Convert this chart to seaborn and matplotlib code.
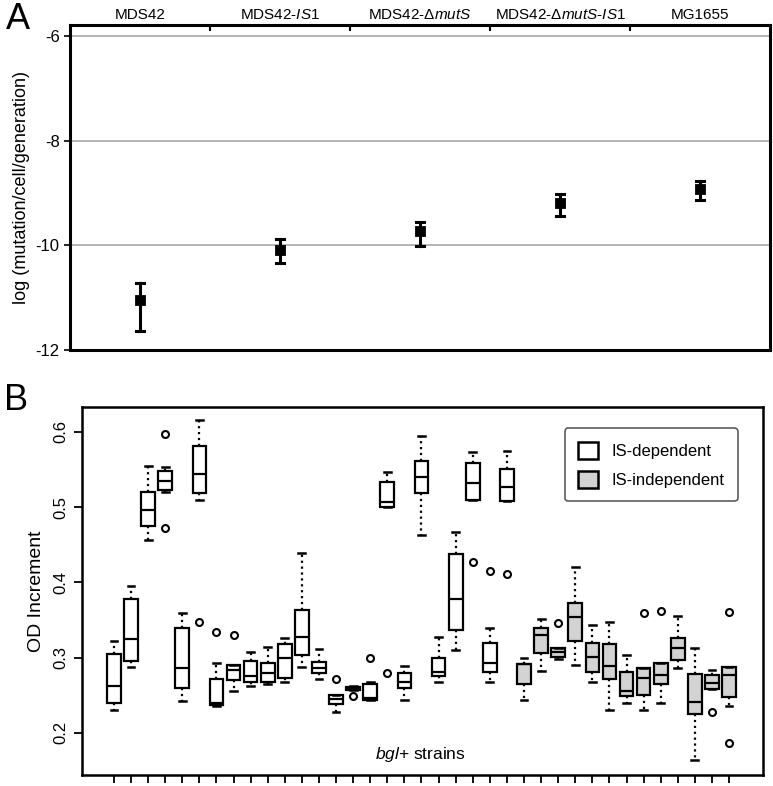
import numpy as np
import pandas as pd
import matplotlib.pyplot as plt
import seaborn as sns

# Panel A: mutation rates (log), point estimate with lower/upper bounds
strains = ["MDS42", "MDS42-$\\mathit{IS}$1", "MDS42-$\\Delta\\mathit{mutS}$",
           "MDS42-$\\Delta\\mathit{mutS}$-$\\mathit{IS}$1", "MG1655"]
rate = [-11.05, -10.08, -9.73, -9.20, -8.93]
rate_lo = [-11.63, -10.33, -10.02, -9.44, -9.13]
rate_hi = [-10.72, -9.88, -9.55, -9.01, -8.78]

# Panel B: box summaries (37 bgl+ strains)
whisk_lo = [.230, .287, .457, .520, .242, .510, .236, .256, .262, .265, .268, .288, .271,
            .228, .257, .244, .500, .244, .463, .268, .310, .509, .268, .508,
            .244, .282, .298, .290, .268, .230, .240, .230, .240, .286, .164, .258, .236]
q1 = [.240, .295, .475, .523, .260, .519, .237, .270, .267, .268, .273, .304, .280,
      .238, .257, .244, .500, .260, .519, .276, .337, .509, .281, .508,
      .265, .306, .301, .322, .281, .272, .249, .250, .265, .297, .225, .258, .248]
median = [.262, .325, .496, .535, .286, .544, .240, .284, .276, .280, .300, .328, .286,
          .245, .259, .246, .507, .268, .540, .281, .378, .532, .293, .527,
          .291, .330, .308, .354, .301, .289, .256, .273, .277, .313, .241, .266, .277]
q3 = [.305, .378, .520, .548, .339, .582, .272, .290, .296, .293, .318, .363, .294,
      .250, .261, .265, .533, .280, .562, .300, .438, .559, .320, .551,
      .292, .339, .313, .372, .319, .318, .281, .286, .293, .326, .278, .277, .288]
whisk_hi = [.322, .395, .555, .553, .359, .616, .293, .290, .307, .314, .326, .439, .311,
            .250, .262, .268, .547, .289, .594, .327, .467, .573, .339, .575,
            .300, .351, .313, .420, .343, .347, .304, .286, .293, .355, .313, .284, .288]
outlier_lo = {3: .473, 5: .348, 14: .249, 16: .280, 21: .427, 23: .411, 35: .228, 36: .186}
outlier_hi = {3: .597, 6: .334, 7: .330, 13: .272, 15: .300, 22: .415, 26: .346,
              31: .360, 32: .362, 36: .361}
n_dependent = 24

plt.rcParams['font.family'] = ['Liberation Sans', 'DejaVu Sans']
plt.rcParams['mathtext.fontset'] = 'custom'
plt.rcParams['mathtext.rm'] = 'Liberation Sans'
plt.rcParams['mathtext.it'] = 'Liberation Sans:italic'

fig = plt.figure(figsize=(7.73, 7.86), dpi=100)
ax_a = fig.add_axes([0.0906, 0.5547, 0.9056, 0.4135])
ax_b = fig.add_axes([0.1061, 0.014, 0.881, 0.468])

# ---- panel A
rows = []
for s, lo, m, hi in zip(strains, rate_lo, rate, rate_hi):
    for v in (lo, m, hi):
        rows.append({"strain": s, "rate": v})
dfa = pd.DataFrame(rows)
sns.pointplot(data=dfa, x="strain", y="rate", order=strains, estimator="median",
              errorbar=("pi", 100), color="black", marker="s", markersize=6,
              linestyle="none", capsize=0.06, err_kws={"linewidth": 2.2}, ax=ax_a)
ax_a.set_xlim(-0.5, 4.5)
ax_a.set_ylim(-12, -5.79)
ax_a.set_yticks([-12, -10, -8, -6])
ax_a.set_yticklabels(["-12", "-10", "-8", "-6"], fontsize=12)
for y in (-10, -8, -6):
    ax_a.axhline(y, color="#a8a8a8", lw=1.2, zorder=0)
ax_a.xaxis.tick_top()
ax_a.set_xticks(range(5))
ax_a.set_xticklabels(strains, fontsize=11)
ax_a.tick_params(axis="x", length=0, pad=2)
ax_a.set_xticks([0.5, 1.5, 2.5, 3.5], minor=True)
ax_a.tick_params(axis="x", which="minor", direction="in", length=4, width=1.5, top=True)
ax_a.tick_params(axis="y", length=4, width=1.2)
ax_a.set_xlabel("")
ax_a.set_ylabel("log (mutation/cell/generation)", fontsize=13, labelpad=4)
for sp in ax_a.spines.values():
    sp.set_linewidth(2.2)
fig.text(0.008, 0.975, "A", fontsize=26, va="center")

# ---- panel B
rows = []
for i in range(len(median)):
    lo = outlier_lo.get(i, whisk_lo[i])
    hi = outlier_hi.get(i, whisk_hi[i])
    grp = "IS-dependent" if i < n_dependent else "IS-independent"
    for v in (lo, whisk_lo[i], q1[i], median[i], median[i], median[i], q3[i], whisk_hi[i], hi):
        rows.append({"strain": str(i), "od": v, "group": grp})
dfb = pd.DataFrame(rows)
sns.boxplot(data=dfb, x="strain", y="od", hue="group", order=[str(i) for i in range(len(median))],
            palette={"IS-dependent": "white", "IS-independent": "#d3d3d3"},
            dodge=False, width=0.8, whis=1.5, linecolor="black", linewidth=1.6,
            whiskerprops={"linestyle": ":", "linewidth": 1.6},
            capprops={"linewidth": 1.8},
            flierprops={"marker": "o", "markersize": 5, "markerfacecolor": "none",
                        "markeredgecolor": "black", "markeredgewidth": 1.5},
            ax=ax_b)
ax_b.set_xlim(-1.87, 37.99)
ax_b.set_ylim(0.144, 0.633)
ax_b.set_yticks([0.2, 0.3, 0.4, 0.5, 0.6])
ax_b.set_yticklabels(["0.2", "0.3", "0.4", "0.5", "0.6"], rotation=90, va="center", fontsize=12)
ax_b.set_xticklabels([])
ax_b.tick_params(axis="x", length=6, width=1.3)
ax_b.tick_params(axis="y", length=6, width=1.3)
ax_b.set_xlabel("")
ax_b.set_ylabel("OD Increment", fontsize=14, labelpad=6)
for sp in ax_b.spines.values():
    sp.set_linewidth(1.8)
ax_b.text(0.497, 0.055, "$\\mathit{bgl}$+ strains", transform=ax_b.transAxes,
          ha="center", va="center", fontsize=12.5)
sns.move_legend(ax_b, "upper right", title=None, frameon=True, fontsize=12,
                borderpad=0.8, handlelength=1.2, handleheight=1.2, labelspacing=0.7,
                bbox_to_anchor=(0.975, 0.965))
leg = ax_b.get_legend()
leg.get_frame().set_edgecolor("#333333")
leg.get_frame().set_linewidth(1.2)
for h in leg.legend_handles:
    h.set_edgecolor("black")
    h.set_linewidth(1.8)
fig.text(0.005, 0.49, "B", fontsize=26, va="center")

fig.savefig("out.png", dpi=100)
